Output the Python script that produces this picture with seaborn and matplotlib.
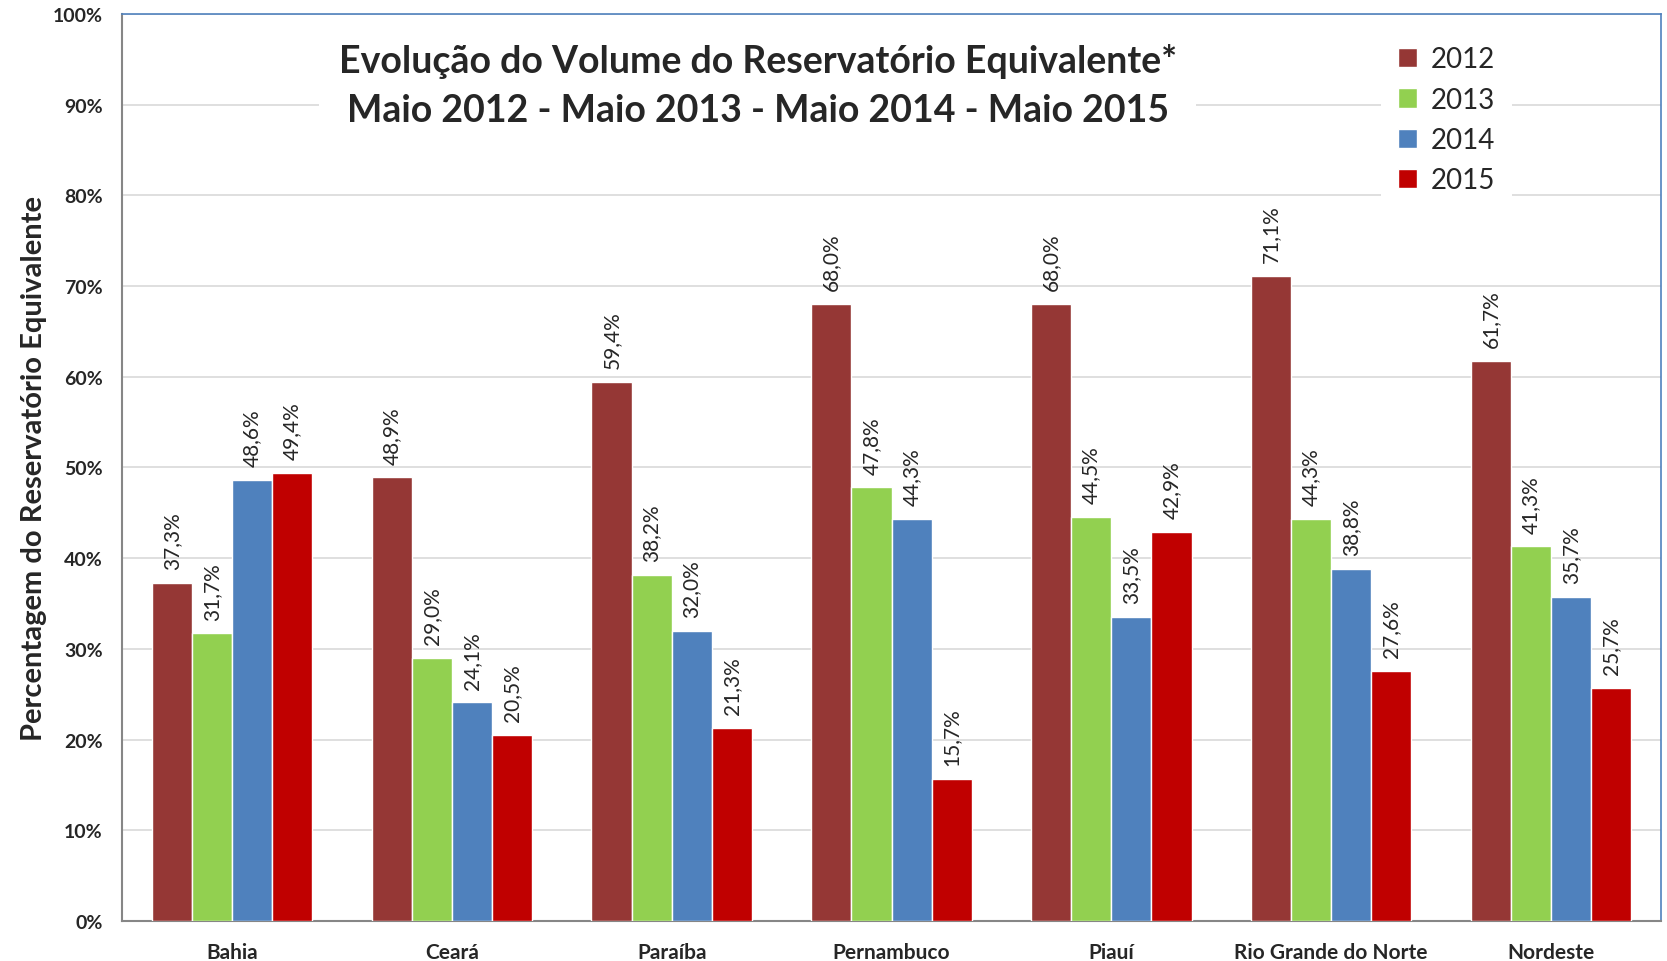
import numpy as np
import pandas as pd
import matplotlib.pyplot as plt
import seaborn as sns
from matplotlib.ticker import FixedLocator, PercentFormatter

# dados (% do volume)
estados = ["Bahia", "Ceará", "Paraíba", "Pernambuco", "Piauí", "Rio Grande do Norte", "Nordeste"]
anos = ["2012", "2013", "2014", "2015"]
v2012 = [37.3, 48.9, 59.4, 68.0, 68.0, 71.1, 61.7]
v2013 = [31.7, 29.0, 38.2, 47.8, 44.5, 44.3, 41.3]
v2014 = [48.6, 24.1, 32.0, 44.3, 33.5, 38.8, 35.7]
v2015 = [49.4, 20.5, 21.3, 15.7, 42.9, 27.6, 25.7]
cores = ["#953735", "#92D050", "#4F81BD", "#C00000"]

df = pd.DataFrame({"Estado": estados * 4,
                   "Ano": np.repeat(anos, len(estados)),
                   "Volume": v2012 + v2013 + v2014 + v2015})

sns.set_style("white")
plt.rcParams['font.family'] = ['Lato', 'DejaVu Sans']

fig = plt.figure(figsize=(16.67, 9.62), dpi=100)
ax = fig.add_axes([0.0732, 0.0416, 0.9232, 0.9428])

sns.barplot(data=df, x="Estado", y="Volume", hue="Ano", palette=cores,
            width=0.73, gap=0, saturation=1, errorbar=None, ax=ax, zorder=3)

# rótulos de dados
for cont in ax.containers:
    labels = [f"{v:.1f}%".replace(".", ",") for v in cont.datavalues]
    ax.bar_label(cont, labels=labels, rotation=90, padding=10, fontsize=15)

ax.set_ylim(0, 100)
ax.set_xlim(-0.5, 6.5)
ax.yaxis.set_major_locator(FixedLocator(np.arange(0, 101, 10)))
ax.yaxis.set_major_formatter(PercentFormatter(decimals=0))
ax.grid(axis="y", color="#D9D9D9", linewidth=1.2, zorder=0)
ax.set_axisbelow(True)

# ticks do eixo x nas divisões entre categorias
ax.xaxis.set_minor_locator(FixedLocator(np.arange(-0.5, 7, 1)))
ax.tick_params(axis="x", which="major", length=0, pad=15, labelsize=15)
ax.tick_params(axis="x", which="minor", length=6, color="#868686", width=1.5)
ax.tick_params(axis="y", length=6, color="#868686", width=1.5, labelsize=14, pad=8)
for lbl in ax.get_xticklabels() + ax.get_yticklabels():
    lbl.set_fontweight("bold")

for s in ["left", "bottom"]:
    ax.spines[s].set_color("#868686")
    ax.spines[s].set_linewidth(1.5)
for s in ["top", "right"]:
    ax.spines[s].set_color("#4F81BD")
    ax.spines[s].set_linewidth(1.2)

ax.set_xlabel("")
ax.set_ylabel("Percentagem do Reservatório Equivalente", fontsize=21, fontweight="bold", labelpad=4)

# título dentro da área do gráfico
ax.text(0.413, 0.922, "Evolução do Volume do Reservatório Equivalente*\nMaio 2012 - Maio 2013 - Maio 2014 - Maio 2015",
        transform=ax.transAxes, ha="center", va="center", fontsize=27, fontweight="bold",
        linespacing=1.55, zorder=4,
        bbox=dict(facecolor="white", edgecolor="none", pad=14))

handles, labels = ax.get_legend_handles_labels()
ax.legend(handles, labels, loc="upper left", bbox_to_anchor=(0.818, 0.983), fontsize=20,
          frameon=True, facecolor="white", edgecolor="none", framealpha=1, fancybox=False,
          handlelength=0.7, handleheight=0.7, handletextpad=0.5, labelspacing=0.52,
          borderpad=0.6, borderaxespad=0)

fig.savefig("out.png", dpi=100)
plt.close()
